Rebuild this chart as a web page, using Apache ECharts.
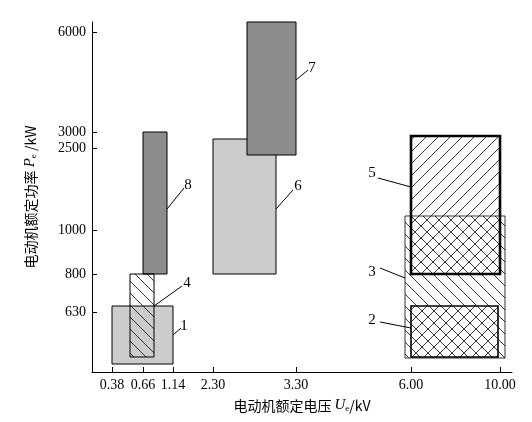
<!DOCTYPE html>
<html><head><meta charset="utf-8">
<script src="https://cdn.jsdelivr.net/npm/echarts@6/dist/echarts.min.js"></script>
<style>html,body{margin:0;background:#fff}#c{width:532px;height:422px}</style>
</head><body><div id="c"></div>
<script>
// axis positions (the scale is not linear, so ticks are placed at positions)
var xTickLabels = ['0.38', '0.66', '1.14', '2.30', '3.30', '6.00', '10.00'];
var xTickPos = [20, 51, 81, 121, 204, 319, 408];
var yTickLabels = ['630', '800', '1000', '2500', '3000', '6000'];
var yTickPos = [60, 98, 142, 224, 240, 340];

// boxes: [x0, x1, y0, y1] in axis positions
var boxNames = ['3', '1', '8', '6', '7', '4', '5', '2'];
var boxes = [
  [313, 413, 14, 156],
  [20, 81, 8, 66],
  [51, 75, 98, 240],
  [121, 184, 98, 233],
  [155, 204, 217, 350],
  [38, 62, 15, 98],
  [319, 408, 98, 236],
  [319, 406, 15, 66]
];
var boxFill = ['none', '#cccccc', '#8c8c8c', '#cccccc', '#8c8c8c', 'none', 'none', 'none'];
var boxHatch = ['\\', '', '', '', '', '\\', '/', '/'];
var boxBorder = [0.8, 1, 1, 1, 1, 1, 2.6, 1.6];
// leader line: from [x,y] on box to [x,y] near the label
var leaderFrom = [[313, 94], [81, 37], [75, 163], [184, 163], [204, 292], [62, 66], [319, 185], [319, 44]];
var leaderTo = [[288, 104], [89, 44], [92, 184], [201, 182], [216, 302], [90, 86], [286, 194], [288, 50]];
var labelAt = [[280, 100], [92, 46], [96, 187], [206, 186], [220, 304], [95, 89], [280, 199], [280, 52]];

var serif = '"Liberation Serif","DejaVu Serif",serif';

function hatchLines(x0, y0, x1, y1, dir, style) {
  var out = [], step = 12;
  if (dir === '/') {
    for (var c = x0 + y0 + 4; c < x1 + y1; c += step) {
      var a = Math.max(x0, c - y1), b = Math.min(x1, c - y0);
      if (b > a) out.push({type: 'line', shape: {x1: a, y1: c - a, x2: b, y2: c - b}, style: style});
    }
  } else {
    for (var c = x0 - y1 + 4; c < x1 - y0; c += step) {
      var a = Math.max(x0, c + y0), b = Math.min(x1, c + y1);
      if (b > a) out.push({type: 'line', shape: {x1: a, y1: a - c, x2: b, y2: b - c}, style: style});
    }
  }
  return out;
}

var data = boxes.map(function (b, i) { return b.concat([i]); });

var chart = echarts.init(document.getElementById('c'));
chart.setOption({
  animation: false,
  grid: {left: 92, right: 20, top: 22, bottom: 50},
  xAxis: {
    type: 'value', min: 0, max: 420,
    splitLine: {show: false},
    axisLine: {lineStyle: {color: '#000'}},
    axisTick: {show: true, inside: true, length: 5, customValues: xTickPos, lineStyle: {color: '#000'}},
    axisLabel: {
      customValues: xTickPos, color: '#000', fontFamily: serif, fontSize: 14, margin: 6,
      formatter: function (v) { return xTickLabels[xTickPos.indexOf(v)]; }
    },
    name: '{c|电动机额定电压 }{i|U}{s|e}{c|/kV}', nameLocation: 'middle', nameGap: 26,
    nameTextStyle: {rich: {
      c: {fontFamily: '"Noto Sans CJK SC"', fontSize: 14, color: '#000'},
      i: {fontFamily: serif, fontStyle: 'italic', fontSize: 15, color: '#000'},
      s: {fontFamily: serif, fontSize: 9, color: '#000', verticalAlign: 'bottom', padding: [6, 0, 0, 0]}
    }}
  },
  yAxis: {
    type: 'value', min: 0, max: 350,
    splitLine: {show: false},
    axisLine: {lineStyle: {color: '#000'}},
    axisTick: {show: true, inside: true, length: 5, customValues: yTickPos, lineStyle: {color: '#000'}},
    axisLabel: {
      customValues: yTickPos, color: '#000', fontFamily: serif, fontSize: 14, margin: 6,
      formatter: function (v) { return yTickLabels[yTickPos.indexOf(v)]; }
    },
    name: '{c|电动机额定功率 }{i|P}{s|e}{c| /kW}', nameLocation: 'middle', nameGap: 54,
    nameTextStyle: {rich: {
      c: {fontFamily: '"Noto Sans CJK SC"', fontSize: 14, color: '#000'},
      i: {fontFamily: serif, fontStyle: 'italic', fontSize: 15, color: '#000'},
      s: {fontFamily: serif, fontSize: 9, color: '#000', verticalAlign: 'bottom', padding: [6, 0, 0, 0]}
    }}
  },
  series: [{
    type: 'custom',
    data: data,
    clip: false,
    renderItem: function (params, api) {
      var i = api.value(4);
      var p0 = api.coord([api.value(0), api.value(3)]);
      var p1 = api.coord([api.value(1), api.value(2)]);
      var x0 = p0[0], y0 = p0[1], x1 = p1[0], y1 = p1[1];
      var kids = [];
      if (boxFill[i] !== 'none')
        kids.push({type: 'rect', shape: {x: x0, y: y0, width: x1 - x0, height: y1 - y0}, style: {fill: boxFill[i]}});
      if (boxHatch[i])
        kids = kids.concat(hatchLines(x0, y0, x1, y1, boxHatch[i], {stroke: '#222', lineWidth: 0.9}));
      kids.push({type: 'rect', shape: {x: x0, y: y0, width: x1 - x0, height: y1 - y0},
        style: {fill: 'none', stroke: '#000', lineWidth: boxBorder[i]}});
      var a = api.coord(leaderFrom[i]), b = api.coord(leaderTo[i]), t = api.coord(labelAt[i]);
      kids.push({type: 'line', shape: {x1: a[0], y1: a[1], x2: b[0], y2: b[1]}, style: {stroke: '#000', lineWidth: 1}});
      kids.push({type: 'text', x: t[0], y: t[1], style: {text: boxNames[i], fill: '#000',
        font: '15px ' + serif, textAlign: 'center', textVerticalAlign: 'middle'}});
      return {type: 'group', children: kids};
    }
  }]
});
</script></body></html>
